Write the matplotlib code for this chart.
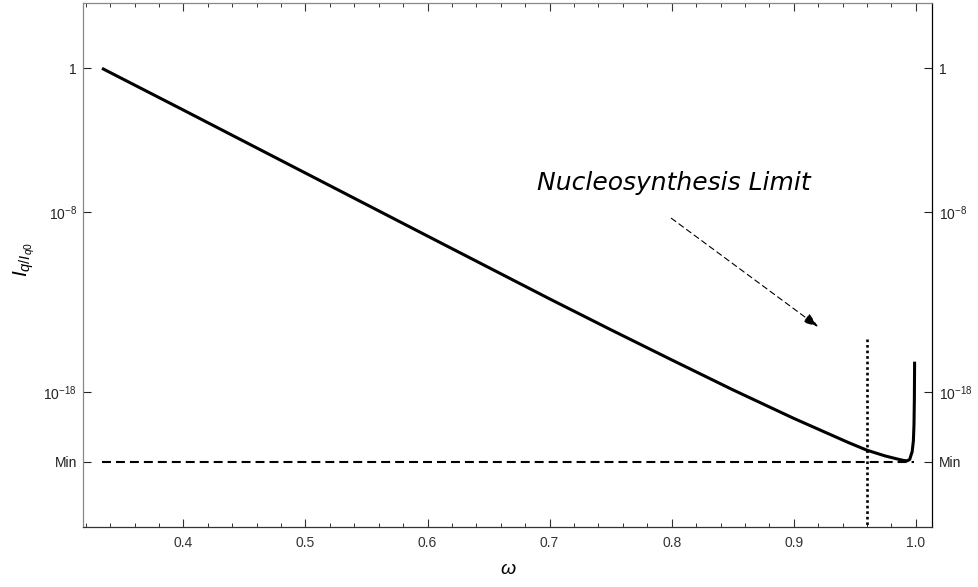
import matplotlib
matplotlib.use("Agg")
import matplotlib.pyplot as plt
import numpy as np

# values (omega, log10 of I_q / I_q0)
omega = [0.3333, 0.40, 0.50, 0.60, 0.70, 0.75, 0.80, 0.85, 0.90, 0.93,
         0.945, 0.96, 0.975, 0.985, 0.99, 0.993, 0.995, 0.997, 0.998,
         0.9985, 0.9988, 0.999]
log_ratio = [0.0, -2.32, -5.82, -9.32, -12.81, -14.52, -16.2, -17.86, -19.45,
             -20.35, -20.8, -21.22, -21.54, -21.71, -21.79, -21.81, -21.73,
             -21.3, -20.7, -19.8, -18.4, -16.3]

log_min = -21.86
nucleo_omega = 0.96
nucleo_top = -15.04
min_line_omega = [0.3333, 0.9986]

ytick_logs = [0, -8, -18, log_min]
ytick_labels = ["1", r"$10^{-8}$", r"$10^{-18}$", "Min"]
xticks = [0.4, 0.5, 0.6, 0.7, 0.8, 0.9, 1.0]
xtick_labels = ["0.4", "0.5", "0.6", "0.7", "0.8", "0.9", "1.0"]

plt.rcParams["font.family"] = ["Liberation Sans", "DejaVu Sans"]
plt.rcParams["mathtext.fontset"] = "custom"
plt.rcParams["mathtext.rm"] = "Liberation Sans"
plt.rcParams["mathtext.it"] = "Liberation Sans:italic"
plt.rcParams["axes.unicode_minus"] = True

fig = plt.figure(figsize=(9.79, 5.87), dpi=100)
ax = fig.add_axes([0.0851, 0.1027, 0.8672, 0.8922])

ax.set_yscale("log")
ax.plot(omega, [10.0 ** v for v in log_ratio], color="black", lw=2.2,
        solid_joinstyle="round", solid_capstyle="butt", zorder=3)
ax.plot(min_line_omega, [10.0 ** log_min] * 2, color="black", lw=1.5,
        linestyle=(0, (4.3, 2.4)), zorder=2)
ax.plot([nucleo_omega, nucleo_omega], [10.0 ** nucleo_top, 1e-30],
        color="black", lw=1.9, linestyle=(0, (1, 1.1)), zorder=2)

ax.set_xlim(0.318, 1.0135)
ax.set_ylim(10.0 ** -25.47, 10.0 ** 3.63)

# annotation
ax.text(0.690, 10.0 ** -6.76, "Nucleosynthesis Limit", fontsize=18,
        family="DejaVu Sans", style="italic", ha="left", va="baseline")
ax.annotate("", xy=(0.920, 10.0 ** -14.36), xytext=(0.7997, 10.0 ** -8.33),
            arrowprops=dict(arrowstyle="-|>,head_length=0.9,head_width=0.32",
                            color="black", lw=0.8, linestyle=(0, (5, 3.5)),
                            shrinkA=0, shrinkB=0))

# ticks
ax.set_xticks(xticks)
ax.set_xticklabels(xtick_labels)
ax.set_xticks(np.arange(0.32, 1.01, 0.02), minor=True)
ax.set_yticks([10.0 ** v for v in ytick_logs])
ax.set_yticklabels(ytick_labels)
ax.yaxis.set_minor_locator(matplotlib.ticker.NullLocator())

ax.tick_params(axis="x", which="major", direction="in", length=5.5, width=0.8,
               top=True, labelsize=10, pad=6.5, colors="#333333")
ax.tick_params(axis="x", which="minor", direction="in", length=3, width=0.7,
               top=True, colors="#333333")
ax.tick_params(axis="y", which="major", direction="in", length=5.5, width=0.8,
               right=True, labelright=True, labelsize=10, pad=4.5,
               colors="#222222")

for side in ["left", "top"]:
    ax.spines[side].set_color("#888888")
ax.spines["bottom"].set_color("#333333")
ax.spines["right"].set_color("black")
for sp in ax.spines.values():
    sp.set_linewidth(0.9)

ax.set_xlabel(r"$\omega$", fontsize=14)
ax.xaxis.set_label_coords(0.5, -0.066)
ax.set_ylabel(r"$I_{q/I_{q0}}$", fontsize=15)
ax.yaxis.set_label_coords(-0.055, 0.51)

fig.savefig("out.png", dpi=100)
